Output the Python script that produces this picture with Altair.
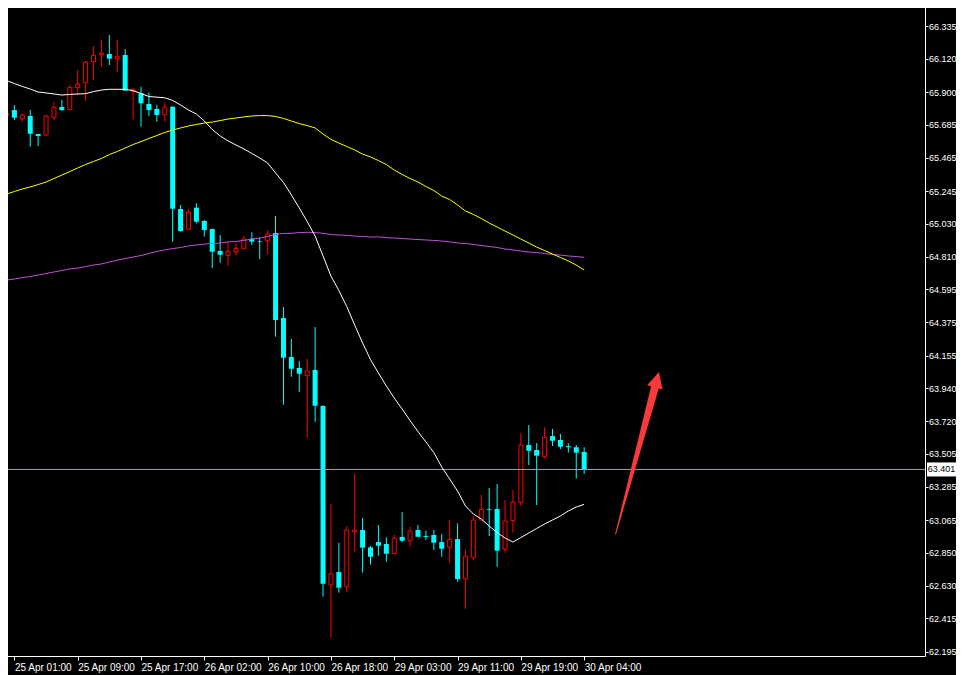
import altair as alt
import pandas as pd

# ---------------- data ----------------
bar_index = list(range(74))

opens = [65.747, 65.782, 65.724, 65.742, 65.623, 65.616, 65.734, 65.802, 65.784, 65.930,
         65.963, 66.102, 66.148, 66.153, 66.122, 66.146, 65.903, 65.893, 65.822, 65.789,
         65.751, 65.804, 65.126, 64.992, 65.135, 65.047, 64.994, 64.848, 64.819, 64.843,
         64.863, 64.929, 64.914, 64.916, 64.967, 64.404, 64.146, 64.073, 64.022, 64.060,
         63.821, 62.636, 62.722, 62.624, 62.989, 63.000, 62.885, 62.920, 62.907, 62.843,
         62.954, 62.929, 63.000, 62.960, 62.967, 62.920, 62.885, 62.940, 62.677, 62.819,
         63.066, 63.137, 63.139, 62.872, 63.062, 63.181, 63.563, 63.530, 63.485, 63.622,
         63.596, 63.556, 63.548, 63.517]

highs = [65.804, 65.815, 65.760, 65.782, 65.623, 65.749, 65.837, 65.848, 65.948, 66.047,
         66.106, 66.206, 66.246, 66.279, 66.246, 66.186, 65.926, 65.936, 65.897, 65.815,
         65.830, 65.804, 65.153, 65.124, 65.164, 65.053, 64.994, 64.954, 64.910, 64.899,
         64.949, 64.972, 64.936, 64.987, 65.080, 64.477, 64.265, 64.119, 64.133, 64.345,
         63.828, 63.172, 62.916, 63.026, 63.371, 63.079, 62.894, 63.033, 62.952, 62.967,
         63.119, 63.020, 63.033, 62.995, 63.000, 62.973, 63.066, 63.044, 62.872, 63.093,
         63.232, 63.278, 63.305, 63.199, 63.265, 63.640, 63.695, 63.576, 63.680, 63.669,
         63.636, 63.574, 63.563, 63.548]

lows = [65.704, 65.716, 65.704, 65.539, 65.543, 65.610, 65.716, 65.775, 65.784, 65.881,
        65.843, 65.981, 66.069, 66.080, 66.036, 65.910, 65.720, 65.671, 65.742, 65.704,
        65.704, 64.910, 64.976, 64.987, 65.031, 64.943, 64.735, 64.770, 64.751, 64.817,
        64.863, 64.888, 64.795, 64.828, 64.280, 63.830, 64.015, 63.914, 63.611, 63.717,
        62.558, 62.286, 62.585, 62.591, 62.850, 62.717, 62.770, 62.830, 62.790, 62.843,
        62.918, 62.889, 62.955, 62.934, 62.867, 62.823, 62.783, 62.657, 62.479, 62.801,
        63.066, 62.960, 62.757, 62.850, 62.982, 63.159, 63.430, 63.165, 63.472, 63.556,
        63.536, 63.512, 63.340, 63.371]

closes = [65.760, 65.731, 65.749, 65.625, 65.610, 65.742, 65.800, 65.782, 65.932, 65.954,
          66.098, 66.144, 66.159, 66.122, 66.135, 65.910, 65.919, 65.826, 65.782, 65.749,
          65.800, 65.128, 64.980, 65.106, 65.042, 64.987, 64.843, 64.823, 64.846, 64.866,
          64.927, 64.910, 64.910, 64.961, 64.391, 64.141, 64.068, 64.035, 64.053, 63.823,
          62.644, 62.708, 62.618, 63.000, 63.000, 62.883, 62.823, 62.896, 62.843, 62.945,
          62.929, 62.993, 62.955, 62.954, 62.916, 62.876, 62.938, 62.675, 62.826, 63.066,
          63.137, 63.132, 62.863, 63.059, 63.185, 63.563, 63.525, 63.492, 63.614, 63.591,
          63.552, 63.548, 63.512, 63.401]

ma_white = [65.977, 65.957, 65.938, 65.921, 65.901, 65.895, 65.888, 65.881, 65.885, 65.888,
            65.890, 65.904, 65.914, 65.919, 65.919, 65.919, 65.910, 65.891, 65.871, 65.867,
            65.863, 65.845, 65.815, 65.782, 65.755, 65.709, 65.653, 65.610, 65.577, 65.550,
            65.524, 65.494, 65.464, 65.431, 65.365, 65.302, 65.219, 65.133, 65.043, 64.947,
            64.815, 64.682, 64.586, 64.480, 64.358, 64.239, 64.129, 64.040, 63.954, 63.874,
            63.801, 63.725, 63.652, 63.583, 63.513, 63.417, 63.338, 63.258, 63.159, 63.106,
            63.073, 63.026, 62.983, 62.947, 62.920, 62.950, 62.980, 63.010, 63.040, 63.066,
            63.093, 63.126, 63.152, 63.170]

ma_yellow = [65.225, 65.242, 65.259, 65.272, 65.288, 65.305, 65.328, 65.351, 65.374, 65.398,
             65.421, 65.441, 65.461, 65.487, 65.507, 65.530, 65.553, 65.573, 65.593, 65.613,
             65.633, 65.649, 65.663, 65.676, 65.686, 65.696, 65.702, 65.712, 65.722, 65.729,
             65.736, 65.742, 65.745, 65.745, 65.739, 65.726, 65.709, 65.692, 65.679, 65.663,
             65.623, 65.587, 65.563, 65.540, 65.517, 65.490, 65.471, 65.447, 65.421, 65.384,
             65.355, 65.328, 65.305, 65.275, 65.249, 65.212, 65.189, 65.153, 65.113, 65.090,
             65.063, 65.033, 65.007, 64.980, 64.954, 64.927, 64.901, 64.874, 64.851, 64.828,
             64.805, 64.782, 64.755, 64.722]

ma_purple = [64.656, 64.662, 64.672, 64.679, 64.689, 64.699, 64.709, 64.719, 64.729, 64.735,
             64.745, 64.755, 64.762, 64.775, 64.788, 64.798, 64.808, 64.818, 64.831, 64.845,
             64.855, 64.864, 64.871, 64.881, 64.888, 64.894, 64.898, 64.901, 64.908, 64.911,
             64.918, 64.927, 64.934, 64.944, 64.957, 64.964, 64.965, 64.970, 64.972, 64.970,
             64.965, 64.957, 64.954, 64.951, 64.947, 64.944, 64.941, 64.941, 64.937, 64.934,
             64.931, 64.927, 64.924, 64.921, 64.918, 64.914, 64.908, 64.901, 64.898, 64.891,
             64.884, 64.878, 64.871, 64.861, 64.855, 64.848, 64.841, 64.838, 64.831, 64.825,
             64.821, 64.815, 64.811, 64.806]

tick_index = [1, 9, 17, 25, 33, 41, 49, 57, 65, 73]
tick_labels = ["25 Apr 01:00", "25 Apr 09:00", "25 Apr 17:00", "26 Apr 02:00",
               "26 Apr 10:00", "26 Apr 18:00", "29 Apr 03:00", "29 Apr 11:00",
               "29 Apr 19:00", "30 Apr 04:00"]

price_ticks = [66.335, 66.120, 65.900, 65.685, 65.465, 65.245, 65.030, 64.810, 64.595,
               64.375, 64.155, 63.940, 63.720, 63.505, 63.285, 63.065, 62.850, 62.630,
               62.415, 62.195]

last_price = 63.401

arrow_index = [76.97, 81.94]
arrow_price = [62.973, 63.944]
arrow_width = [1, 8]
arrow_head_index = [82.19]
arrow_head_price = [63.996]

# ---------------- tables ----------------
candles = pd.DataFrame({"i": bar_index, "open": opens, "high": highs,
                        "low": lows, "close": closes})
candles["up"] = candles["close"] > candles["open"]
bull = candles[candles["up"]]
bear = candles[~candles["up"]]

mas = pd.DataFrame({"i": bar_index, "white": ma_white, "yellow": ma_yellow,
                    "purple": ma_purple})
last_df = pd.DataFrame({"p": [last_price], "t": [f"{last_price:.3f}"]})
arrow_df = pd.DataFrame({"i": arrow_index, "p": arrow_price, "w": arrow_width})
head_df = pd.DataFrame({"i": arrow_head_index, "p": arrow_head_price})

# ---------------- scales & axes ----------------
FONT = "Liberation Sans"
xs = alt.Scale(domain=[-0.1875, 115.4375], nice=False, zero=False)
ys = alt.Scale(domain=[62.1654, 66.5105], nice=False, zero=False)

label_arr = "[" + ",".join("'" + t + "'" for t in tick_labels) + "]"
ax_x = alt.Axis(values=tick_index, labelExpr=f"{label_arr}[round((datum.value - 1) / 8)]",
                orient="bottom", title=None, grid=False, domainColor="white",
                tickColor="white", tickSize=4, labelColor="white", labelFont=FONT,
                labelFontSize=10, labelAlign="left", labelBaseline="top", labelPadding=2,
                labelFlush=False, labelOverlap=False, labelBound=False)
ax_y = alt.Axis(values=price_ticks, format=".3f", orient="right", title=None, grid=False,
                domainColor="white", tickColor="white", tickSize=3, labelColor="white",
                labelFont=FONT, labelFontSize=9, labelPadding=0.5, labelOverlap=False,
                labelFlush=False, labelBound=False)

X = alt.X("i:Q", scale=xs, axis=ax_x)

def Y(f):
    return alt.Y(f + ":Q", scale=ys, axis=ax_y)

CYAN = "#00ffff"
RED = "#ff0000"

wick_bear = alt.Chart(bear).mark_rule(color=CYAN, strokeWidth=1).encode(
    x=X, y=Y("low"), y2="high")
wick_bull = alt.Chart(bull).mark_rule(color=RED, strokeWidth=1).encode(
    x=X, y=Y("low"), y2="high")
body_bear = alt.Chart(bear).mark_bar(size=5, color=CYAN).encode(
    x=X, y=Y("open"), y2="close")
body_bull = alt.Chart(bull).mark_bar(size=4, fill="black", stroke=RED, strokeWidth=1).encode(
    x=X, y=Y("open"), y2="close")

price_line = alt.Chart(last_df).mark_rule(color="#98a4b4", strokeWidth=1).encode(y=Y("p"))

line_purple = alt.Chart(mas).mark_line(color="#c050dc", strokeWidth=1).encode(x=X, y=Y("purple"))
line_yellow = alt.Chart(mas).mark_line(color="#ffff00", strokeWidth=1).encode(x=X, y=Y("yellow"))
line_white = alt.Chart(mas).mark_line(color="#ffffff", strokeWidth=1).encode(x=X, y=Y("white"))

ARROW = "#f83a3a"
arrow_shaft = alt.Chart(arrow_df).mark_trail(color=ARROW).encode(
    x=X, y=Y("p"), size=alt.Size("w:Q", scale=None, legend=None))
arrow_head = alt.Chart(head_df).mark_point(
    shape="M0,-1L1,1L-1,1Z", size=256, filled=True, color=ARROW, opacity=1,
    strokeWidth=0, angle=15).encode(x=X, y=Y("p"))

box = alt.Chart(last_df).mark_point(
    shape="M-1,-0.483L1,-0.483L1,0.483L-1,0.483Z", size=841, filled=True,
    color="white", opacity=1, strokeWidth=0).encode(x=alt.value(941.5), y=Y("p"))
box_text = alt.Chart(last_df).mark_text(
    color="black", font=FONT, fontSize=9, align="center", baseline="middle").encode(
    x=alt.value(941.5), y=Y("p"), text="t:N")

chart = alt.layer(
    wick_bear, wick_bull, body_bear, body_bull, price_line,
    line_purple, line_yellow, line_white, arrow_shaft, arrow_head, box, box_text
).properties(
    width=925, height=656,
    padding={"left": -8, "top": -8, "right": 31, "bottom": 19},
    autosize=alt.AutoSizeParams(type="none"),
    background="black",
).configure_view(strokeWidth=0)

chart.save("out.html", embed_options={"renderer": "svg", "actions": False})
